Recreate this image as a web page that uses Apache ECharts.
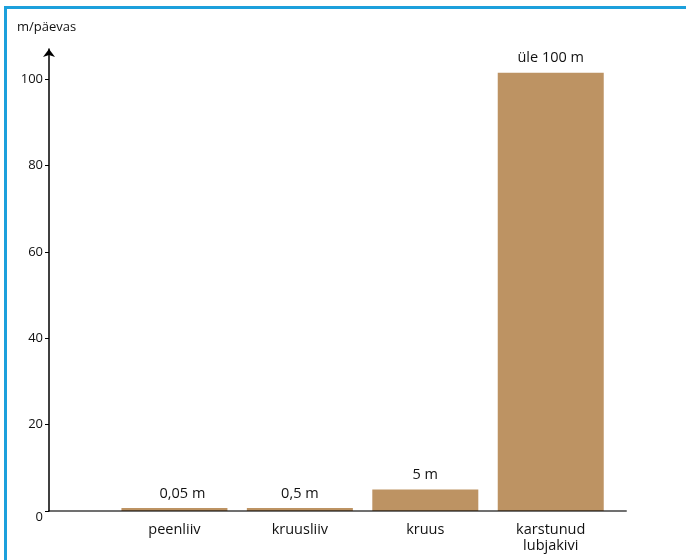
<!DOCTYPE html>
<html><head><meta charset="utf-8">
<script src="https://cdn.jsdelivr.net/npm/echarts@6/dist/echarts.min.js"></script>
<style>
html,body{margin:0;padding:0;background:#fff;}
#frame{position:absolute;left:4px;top:6px;width:700px;height:600px;border-top:3px solid #1ca0dc;border-left:3px solid #1ca0dc;}
#chart{position:absolute;left:0;top:0;width:686px;height:560px;}
</style></head>
<body>
<div id="frame"></div>
<div id="chart"></div>
<script>
const categories = ['peenliiv', 'kruusliiv', 'kruus', 'karstunud\nlubjakivi'];
const values = [0.05, 0.5, 5, 101.5];
const valueLabels = ['0,05 m', '0,5 m', '5 m', 'üle 100 m'];
const yTicks = [0, 20, 40, 60, 80, 100];
const yName = 'm/päevas';

const FONT = '"Open Sans", sans-serif';
const chart = echarts.init(document.getElementById('chart'), null, {renderer: 'canvas'});
chart.setOption({
  animation: false,
  backgroundColor: 'transparent',
  grid: {left: 49, right: 60, top: 49, bottom: 49},
  graphic: [{
    type: 'text', left: 17, top: 21,
    style: {text: yName, font: '13px ' + FONT, fill: '#111'}
  }],
  xAxis: {
    type: 'value', min: 0, max: 4.6, interval: 1, z: 5,
    axisLine: {show: true, lineStyle: {color: 'rgba(0,0,0,0.56)', width: 2}},
    axisTick: {show: false},
    splitLine: {show: false},
    axisLabel: {
      showMaxLabel: false, margin: 11, color: '#111', fontFamily: FONT, fontSize: 14.5, lineHeight: 16,
      align: 'center',
      formatter: v => (Number.isInteger(v) && v >= 1 && v <= categories.length) ? categories[v - 1] : ''
    }
  },
  yAxis: {
    type: 'value', min: 0, max: 107, interval: 20,
    axisLine: {show: true, symbol: ['none', 'arrow'], symbolSize: [9, 8], lineStyle: {color: '#000', width: 1.5}},
    axisTick: {show: true, length: 4, lineStyle: {color: '#000'}},
    splitLine: {show: false},
    axisLabel: {
      showMaxLabel: false, margin: 6, color: '#111', fontFamily: FONT, fontSize: 13,
      formatter: v => yTicks.includes(v) ? (v === 0 ? '{z|0}' : String(v)) : '',
      rich: {z: {padding: [12, 0, 0, 0], fontFamily: FONT, fontSize: 13, color: '#111'}}
    }
  },
  series: [{
    type: 'bar',
    barWidth: 106,
    barMinHeight: 3,
    itemStyle: {color: '#bd9363'},
    label: {
      show: true, position: 'top', distance: 7, color: '#111', fontFamily: FONT, fontSize: 14.5,
      formatter: p => valueLabels[p.dataIndex]
    },
    data: values.map((v, i) => i === 0
      ? {value: [i + 1, v], label: {offset: [8, 0]}}
      : [i + 1, v])
  }]
});
</script>
</body></html>
